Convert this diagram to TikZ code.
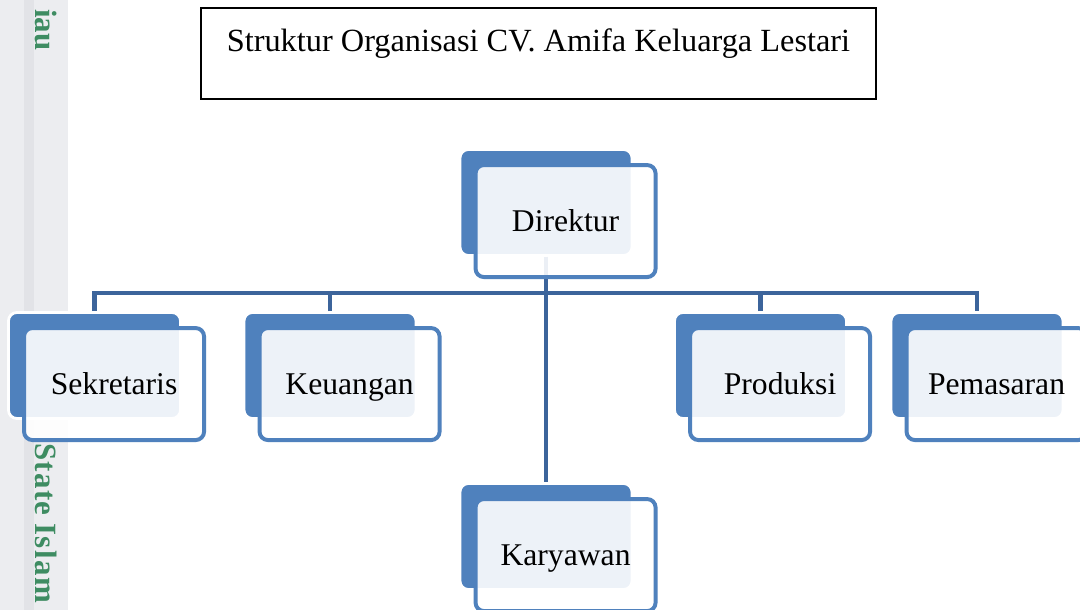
\documentclass[tikz,border=0pt]{standalone}
\usepackage{fontspec}
\setmainfont{Liberation Serif}
\usetikzlibrary{calc}
\definecolor{boxblue}{RGB}{79,129,189}
\definecolor{linkblue}{RGB}{60,100,155}
\definecolor{wmgreen}{RGB}{62,140,98}
\definecolor{stripgray}{RGB}{236,237,240}
\definecolor{stripdark}{RGB}{226,227,231}

\begin{document}
\begin{tikzpicture}[x=0.025cm,y=-0.025cm,
  back/.style={draw=white,line width=2pt,fill=boxblue,rounded corners=6pt,inner sep=0pt,
    minimum width=4.3cm,minimum height=2.65cm},
  front/.style={draw=boxblue,line width=2.8pt,fill=white,fill opacity=0.9,text opacity=1,
    rounded corners=6pt,inner sep=0pt,anchor=north west,minimum width=4.5cm,minimum height=2.8cm,
    text height=18pt,text depth=2.5pt,font=\fontsize{22.5}{27}\selectfont},
  link/.style={draw=linkblue,line width=3.5pt},
  wm/.style={rotate=-90,text=wmgreen,inner sep=0pt,font=\bfseries\fontsize{22}{26}\selectfont}]
\useasboundingbox (0,0) rectangle (1080,610);
\fill[white] (0,0) rectangle (1080,610);
\fill[stripgray] (0,0) rectangle (68,610);
\fill[stripdark] (24,0) rectangle (34,610);
\node[wm] (riau) at (46,30) {iau};
\node[wm] (uin) at (46,523) {S\kern1pt t\kern1pt a\kern1pt t\kern1pt e I\kern1pt s\kern1pt l\kern1pt a\kern1pt m};
% judul
\node[draw,line width=1.4pt,inner sep=0pt,minimum width=16.875cm,
  text height=1.1cm,text depth=1.175cm,font=\fontsize{23}{27}\selectfont] (title) at (538.5,53.5)
 {Struktur Organisasi CV. Amifa Keluarga Lestari};
% kotak belakang
\node[back] (dir) at (546,202.5) {};
\node[back] (sek) at (94.5,365.5) {};
\node[back] (keu) at (330,365.5) {};
\node[back] (pro) at (760.5,365.5) {};
\node[back] (pem) at (977,365.5) {};
\node[back] (kar) at (546,536.5) {};
% garis
\coordinate (bus) at (546,293);
\draw[link] (sek.north) -- (sek.north |- bus) -- (pem.north |- bus) -- (pem.north);
\draw[link] (keu.north) -- (keu.north |- bus); \draw[link] (pro.north) -- (pro.north |- bus);
\draw[link] (dir.south) -- (kar.north);
% kotak depan
\node[front] (dirF) at ($(dir.north west)+(15,15)$) {Direktur};
\node[front] (sekF) at ($(sek.north west)+(15,15)$) {Sekretaris};
\node[front] (keuF) at ($(keu.north west)+(15,15)$) {Keuangan};
\node[front] (proF) at ($(pro.north west)+(15,15)$) {Produksi};
\node[front] (pemF) at ($(pem.north west)+(15,15)$) {Pemasaran};
\node[front] (karF) at ($(kar.north west)+(15,15)$) {Karyawan};
\end{tikzpicture}
\end{document}
